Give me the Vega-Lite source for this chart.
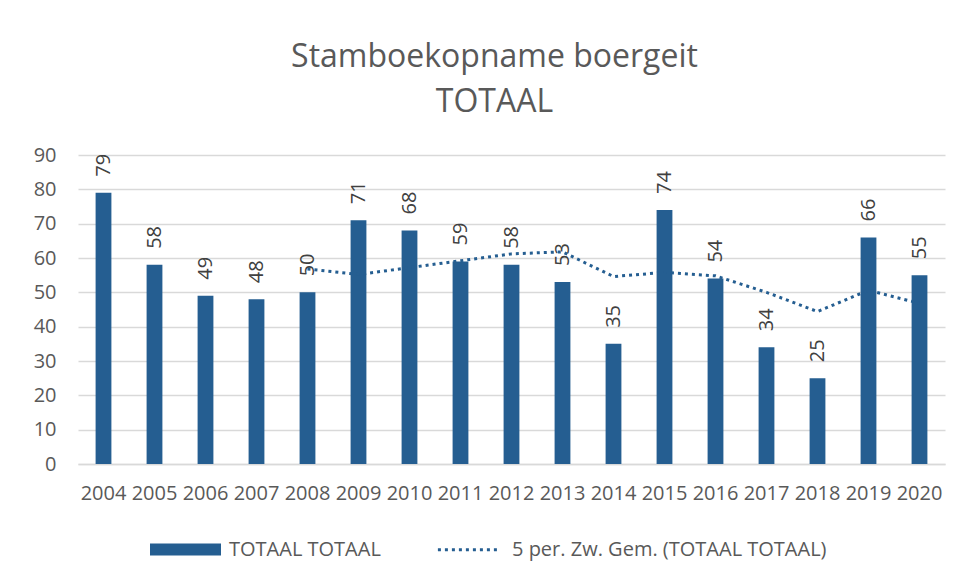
{
  "$schema": "https://vega.github.io/schema/vega-lite/v6.json",
  "autosize": {"type": "none"},
  "width": 867,
  "height": 309,
  "padding": {"left": 78, "top": 155, "right": 10, "bottom": 118},
  "background": "white",
  "title": {
    "text": ["Stamboekopname boergeit", "TOTAAL"],
    "font": "Open Sans",
    "fontSize": 32,
    "fontWeight": "normal",
    "color": "#595959",
    "lineHeight": 45,
    "anchor": "middle",
    "dx": -17,
    "offset": 26
  },
  "config": {
    "font": "Open Sans",
    "view": {"stroke": null},
    "axis": {
      "labelFont": "Open Sans",
      "labelFontSize": 20,
      "labelColor": "#595959",
      "gridColor": "#d9d9d9",
      "gridWidth": 1.5,
      "domainColor": "#d9d9d9",
      "domainWidth": 1.5,
      "ticks": false,
      "title": null,
      "labelOverlap": false
    },
    "legend": {
      "labelFont": "Open Sans",
      "labelFontSize": 20,
      "labelColor": "#595959",
      "labelLimit": 0
    }
  },
  "data": {
    "values": [
      {"year": "2004", "total": 79, "ma": null},
      {"year": "2005", "total": 58, "ma": null},
      {"year": "2006", "total": 49, "ma": null},
      {"year": "2007", "total": 48, "ma": null},
      {"year": "2008", "total": 50, "ma": 56.8},
      {"year": "2009", "total": 71, "ma": 55.2},
      {"year": "2010", "total": 68, "ma": 57.2},
      {"year": "2011", "total": 59, "ma": 59.2},
      {"year": "2012", "total": 58, "ma": 61.2},
      {"year": "2013", "total": 53, "ma": 61.8},
      {"year": "2014", "total": 35, "ma": 54.6},
      {"year": "2015", "total": 74, "ma": 55.8},
      {"year": "2016", "total": 54, "ma": 54.8},
      {"year": "2017", "total": 34, "ma": 50.0},
      {"year": "2018", "total": 25, "ma": 44.4},
      {"year": "2019", "total": 66, "ma": 50.6},
      {"year": "2020", "total": 55, "ma": 46.8}
    ]
  },
  "encoding": {
    "x": {
      "field": "year",
      "type": "ordinal",
      "scale": {"paddingInner": 0.69, "paddingOuter": 0.345},
      "axis": {"labelAngle": 0, "grid": false, "labelPadding": 19, "domain": true}
    }
  },
  "layer": [
    {
      "mark": {"type": "bar"},
      "encoding": {
        "y": {
          "field": "total",
          "type": "quantitative",
          "scale": {"domain": [0, 90], "nice": false},
          "axis": {"values": [0,10,20,30,40,50,60,70,80,90], "domain": false, "labelPadding": 22, "grid": true}
        },
        "color": {
          "datum": "TOTAAL TOTAAL",
          "type": "nominal",
          "scale": {"domain": ["TOTAAL TOTAAL", "5 per. Zw. Gem. (TOTAAL TOTAAL)"], "range": ["#255e91", "#255e91"]},
          "legend": {
            "title": null,
            "orient": "none",
            "legendX": 72,
            "legendY": 359,
            "direction": "horizontal",
            "symbolSize": 4624,
            "columnPadding": 50,
            "labelOffset": 8,
            "symbolStrokeWidth": 3,
            "encode": {
              "symbols": {
                "update": {
                  "shape": {"signal": "datum.value === 'TOTAAL TOTAAL' ? 'M-1,-0.13H1V0.13H-1Z' : 'M-0.9,0H0.9'"},
                  "fill": {"signal": "datum.value === 'TOTAAL TOTAAL' ? '#255e91' : 'transparent'"},
                  "stroke": {"signal": "datum.value === 'TOTAAL TOTAAL' ? 'transparent' : '#255e91'"},
                  "strokeDash": {"signal": "datum.value === 'TOTAAL TOTAAL' ? [] : [3,4]"},
                  "strokeWidth": {"value": 3},
                  "opacity": {"value": 1}
                }
              }
            }
          }
        }
      }
    },
    {
      "mark": {"type": "text", "angle": -90, "align": "left", "baseline": "middle", "dx": 16, "fontSize": 20, "color": "#404040"},
      "encoding": {
        "y": {
          "field": "total",
          "type": "quantitative",
          "scale": {"domain": [0, 90], "nice": false},
          "axis": {"values": [0,10,20,30,40,50,60,70,80,90], "domain": false, "labelPadding": 22, "grid": true}
        },
        "text": {"field": "total", "type": "quantitative"}
      }
    },
    {
      "mark": {"type": "line", "strokeWidth": 3, "strokeDash": [3, 4]},
      "encoding": {
        "y": {
          "field": "ma",
          "type": "quantitative",
          "scale": {"domain": [0, 90], "nice": false},
          "axis": {"values": [0,10,20,30,40,50,60,70,80,90], "domain": false, "labelPadding": 22, "grid": true}
        },
        "color": {"datum": "5 per. Zw. Gem. (TOTAAL TOTAAL)", "type": "nominal"}
      }
    }
  ]
}
